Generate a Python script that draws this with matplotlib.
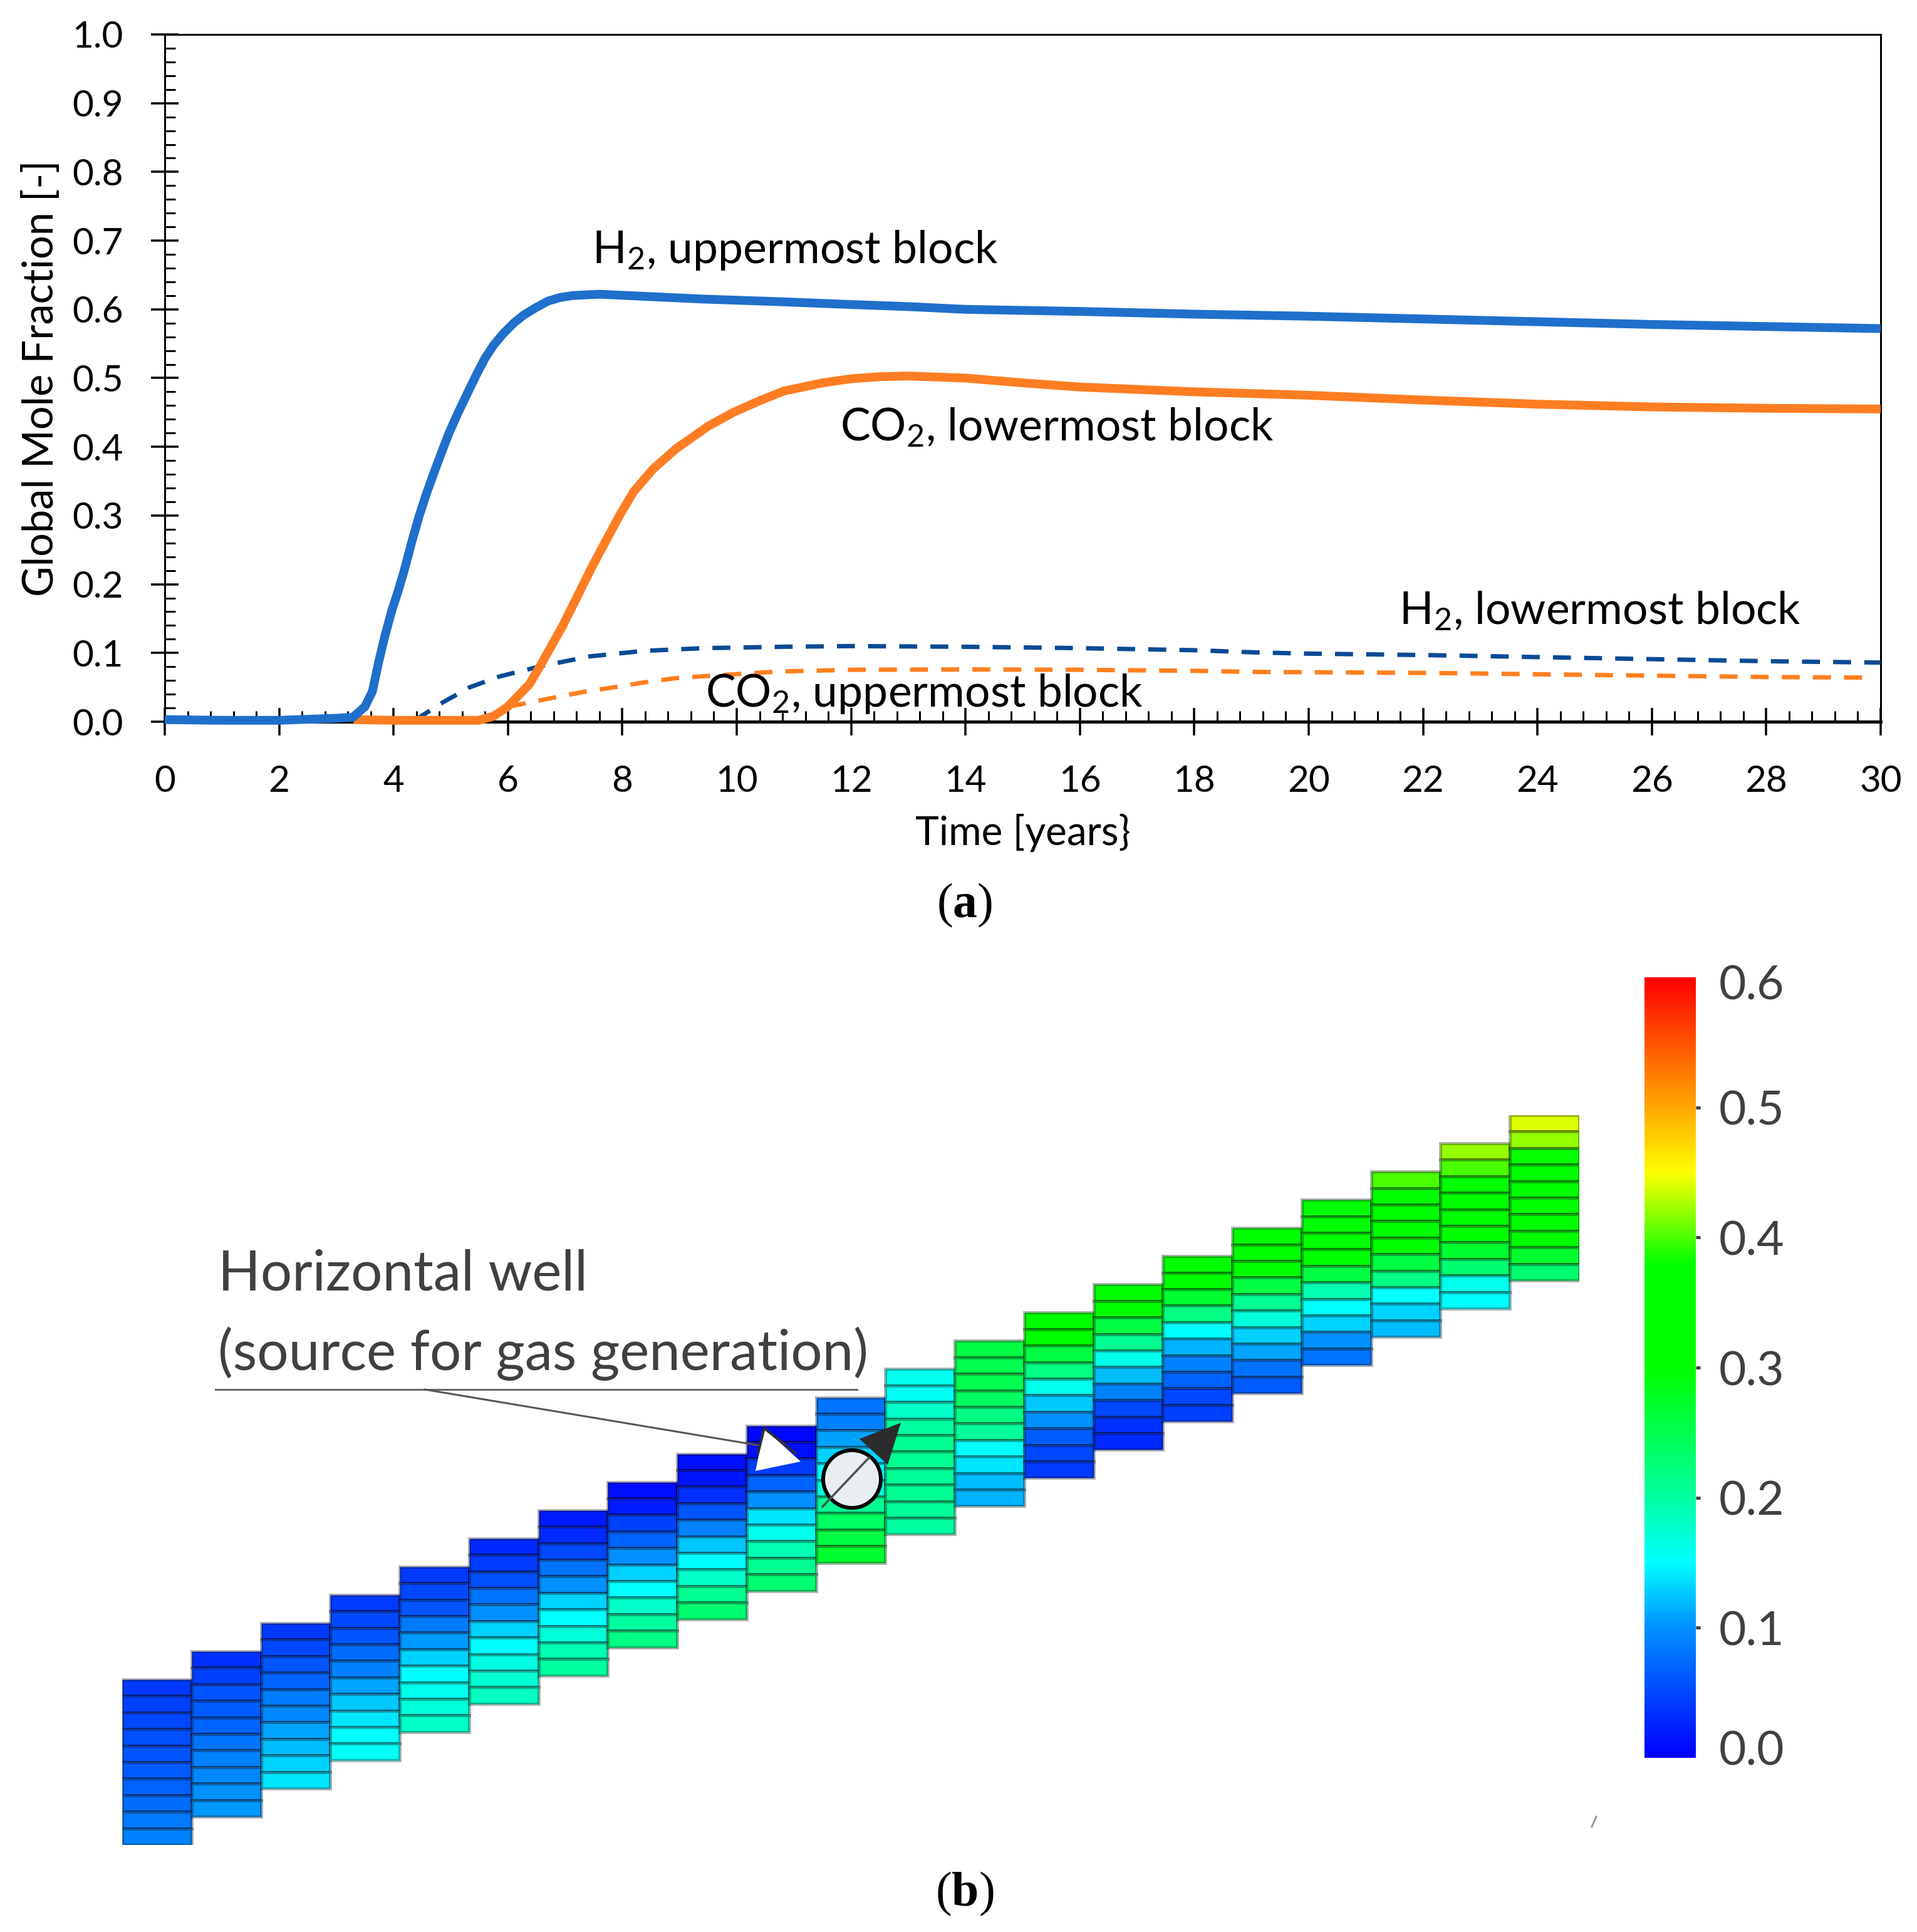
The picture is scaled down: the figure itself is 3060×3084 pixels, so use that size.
import numpy as np
import matplotlib
matplotlib.use("Agg")
import matplotlib.pyplot as plt
from matplotlib.cm import ScalarMappable
from matplotlib.colors import LinearSegmentedColormap, Normalize
from matplotlib.patches import Circle, Polygon
from matplotlib.ticker import MultipleLocator
from matplotlib.transforms import ScaledTranslation

# panel (a) curves
h2_upper_t = [0, 1, 2, 3, 3.29, 3.5, 3.63, 3.74, 3.85, 3.97, 4.08, 4.18, 4.33, 4.45, 4.58, 4.71, 4.84, 4.97, 5.12,
              5.28, 5.45, 5.6, 5.75, 5.91, 6.1, 6.28, 6.5, 6.7, 6.9, 7.12, 7.35, 7.6, 8.37, 9.4, 10.8, 12, 13, 14,
              16, 18, 20, 22, 24, 26, 28, 30]
h2_upper = [.003, .002, .002, .005, .0065, .022, .044, .087, .125, .162, .19, .218, .265, .30, .333, .363, .392, .42,
            .448, .476, .505, .529, .548, .564, .58, .592, .603, .612, .617, .62, .621, .622, .619, .615, .611, .607,
            .604, .6, .597, .593, .59, .586, .582, .578, .575, .572]
co2_lower_t = [3.3, 4, 5, 5.49, 5.75, 6.0, 6.38, 6.59, 6.96, 7.48, 7.95, 8.2, 8.53, 8.95, 9.16, 9.5, 9.94, 10.4,
               10.82, 11.5, 12, 12.5, 13, 14, 15, 16, 18, 20, 22, 24, 26, 28, 30]
co2_lower = [.003, .002, .002, .002, .008, .022, .055, .085, .14, .227, .30, .335, .367, .398, .41, .43, .45, .467,
             .481, .493, .499, .502, .503, .5, .493, .487, .48, .475, .468, .462, .458, .456, .455]
h2_lower_t = [4.37, 4.86, 5.33, 5.86, 6.59, 7.43, 8.37, 9.42, 10.82, 12, 14, 16, 18, 19.07, 20, 22, 24, 26, 28, 30]
h2_lower = [.002, .028, .05, .066, .081, .095, .103, .107, .109, .11, .109, .107, .104, .1008, .099, .097, .094,
            .091, .088, .086]
co2_upper_t = [6.0, 6.2, 6.8, 7.3, 7.85, 8.37, 8.9, 9.4, 10.73, 12, 14, 16, 18, 19.07, 22, 24, 26, 28, 29.7]
co2_upper = [.022, .025, .035, .043, .05, .057, .063, .066, .073, .0755, .076, .0755, .074, .0724, .071, .069, .067,
             .065, .0642]

# panel (b) mole fraction per block, one row per column of the grid, top layer first
block_values = [
    [.04, .045, .05, .055, .06, .065, .07, .075, .085, .09],
    [.035, .045, .06, .065, .07, .08, .09, .095, .10, .105],
    [.04, .05, .06, .07, .085, .095, .11, .12, .13, .14],
    [.04, .05, .06, .075, .09, .11, .125, .14, .15, .155],
    [.04, .05, .06, .085, .105, .13, .15, .16, .17, .18],
    [.03, .04, .055, .08, .10, .13, .15, .165, .175, .185],
    [.02, .03, .05, .08, .10, .13, .15, .17, .19, .20],
    [.01, .02, .045, .07, .10, .13, .15, .18, .20, .22],
    [.01, .015, .035, .06, .09, .125, .15, .18, .21, .23],
    [.005, .01, .04, .07, .10, .14, .16, .19, .21, .23],
    [.08, .09, .11, .13, .15, .17, .21, .24, .26, .27],
    [.16, .155, .18, .20, .21, .21, .205, .21, .205, .20],
    [.26, .25, .25, .24, .22, .205, .15, .14, .12, .115],
    [.32, .30, .26, .22, .16, .125, .10, .065, .05, .04],
    [.34, .33, .26, .21, .16, .12, .09, .05, .035, .03],
    [.34, .33, .27, .22, .15, .115, .09, .07, .05, .045],
    [.35, .34, .30, .26, .21, .17, .13, .11, .08, .065],
    [.36, .35, .345, .31, .26, .19, .15, .13, .10, .08],
    [.40, .36, .35, .34, .30, .26, .22, .15, .13, .12],
    [.42, .40, .35, .35, .34, .31, .27, .23, .16, .15],
    [.44, .42, .38, .355, .35, .35, .34, .30, .27, .23],
]
colorbar_ticks = [0.0, 0.1, 0.2, 0.3, 0.4, 0.5, 0.6]

W, H = 3060, 3084
DPI = 100
PT = 72 / DPI  # one picture pixel in points

plt.rcParams['font.family'] = ['Lato', 'DejaVu Sans']
plt.rcParams['mathtext.default'] = 'regular'
plt.rcParams['mathtext.fontset'] = 'custom'
plt.rcParams['mathtext.rm'] = 'Liberation Serif'
plt.rcParams['mathtext.bf'] = 'Liberation Serif:bold'


def px_axes(fig, left, top, right, bottom, **kw):
    return fig.add_axes([left / W, 1 - bottom / H, (right - left) / W, (bottom - top) / H], **kw)


fig = plt.figure(figsize=(W / DPI, H / DPI), dpi=DPI, facecolor='white')

# panel (a)
ax = px_axes(fig, 263, 55, 3002, 1152)
ax.plot(h2_lower_t, h2_lower, color='#0B4A94', lw=7 * PT, dashes=(4.1, 3.0), dash_capstyle='butt', zorder=3)
ax.plot(co2_upper_t, co2_upper, color='#FF7F1E', lw=7 * PT, dashes=(4.1, 3.0), dash_capstyle='butt', zorder=3)
ax.plot(co2_lower_t, co2_lower, color='#FF7D23', lw=14 * PT, solid_capstyle='butt', solid_joinstyle='round',
        clip_on=False, zorder=4)
ax.plot(h2_upper_t, h2_upper, color='#1F6FCB', lw=14 * PT, solid_capstyle='butt', solid_joinstyle='round',
        clip_on=False, zorder=5)
ax.set_xlim(0, 30)
ax.set_ylim(0, 1)
ax.xaxis.set_major_locator(MultipleLocator(2))
ax.xaxis.set_minor_locator(MultipleLocator(0.4))
ax.yaxis.set_major_locator(MultipleLocator(0.1))
ax.yaxis.set_minor_locator(MultipleLocator(0.02))
ax.tick_params(which='major', direction='inout', length=44 * PT, width=3.5 * PT, labelsize=42)
ax.tick_params(axis='x', which='major', pad=47 * PT)
ax.tick_params(axis='y', which='major', pad=44 * PT)
ax.tick_params(which='minor', direction='in', length=17 * PT, width=3 * PT)
for side in ax.spines:
    ax.spines[side].set_linewidth(3 * PT)
ax.spines['bottom'].set_linewidth(5 * PT)
ax.set_xlabel('Time [years}', fontsize=46, labelpad=18)
ax.set_ylabel('Global Mole Fraction [-]', fontsize=48, labelpad=13)

# panel (b) grid, x in columns, y in layers
layer_px = 26.4
column_rise = 45.05 / layer_px
cmap = LinearSegmentedColormap.from_list('gas', [
    (0.0, (0, 0, 1)),
    (0.1 / 0.6, (0, 0.57, 1)),
    (0.15 / 0.6, (0, 1, 1)),
    (0.2 / 0.6, (0, 1, 0.63)),
    (0.3 / 0.6, (0, 1, 0)),
    (0.38 / 0.6, (0, 1, 0)),
    (0.45 / 0.6, (1, 1, 0)),
    (0.5 / 0.6, (1, 0.66, 0)),
    (1.0, (1, 0, 0)),
])
norm = Normalize(0, 0.6)

ax_grid = px_axes(fig, 195, 1780, 2521, 2945)
ax_grid.patch.set_alpha(0)
ax_grid.set_axis_off()
n_cols = len(block_values)
for col, values in enumerate(block_values):
    n_layers = len(values)
    bottoms = [col * column_rise + (n_layers - 1 - j) for j in range(n_layers)]
    ax_grid.bar([col] * n_layers, [1] * n_layers, width=1, bottom=bottoms, color=cmap(norm(values)),
                edgecolor=(0, 0, 0, 0.3), linewidth=5 * PT)
ax_grid.set_xlim(-0.5, n_cols - 0.5)
ax_grid.set_ylim(0, (n_cols - 1) * column_rise + 10)

# colour scale
cax = px_axes(fig, 2625, 1560, 2707, 2806)
cbar = fig.colorbar(ScalarMappable(norm=norm, cmap=cmap), cax=cax, ticks=colorbar_ticks)
cbar.outline.set_visible(False)
cbar.ax.tick_params(length=7 * PT, width=5 * PT, color='#404040', labelcolor='#404040', labelsize=54, pad=30 * PT)
cbar.ax.set_yticklabels(['%.1f' % v for v in colorbar_ticks])
ticks = cbar.ax.yaxis.get_major_ticks()
ticks[0].tick2line.set_visible(False)
ticks[-1].tick2line.set_visible(False)
zero_label = ticks[0].label2
zero_label.set_transform(zero_label.get_transform() + ScaledTranslation(0, 16 / DPI, fig.dpi_scale_trans))
ticks[-1].label2.set_transform(ticks[-1].label2.get_transform() + ScaledTranslation(0, -8 / DPI, fig.dpi_scale_trans))

# annotations in picture pixels
ov = px_axes(fig, 0, 0, W, H)
ov.patch.set_alpha(0)
ov.set_axis_off()
ov.set_xlim(0, W)
ov.set_ylim(H, 0)
ov.set_aspect('equal')

for x, y, s in [(945, 420, 'H$_2$, uppermost block'),
                (1341, 703, 'CO$_2$, lowermost block'),
                (2233, 996, 'H$_2$, lowermost block'),
                (1126, 1128, 'CO$_2$, uppermost block')]:
    ov.text(x, y, s, fontsize=51.5, va='baseline', ha='left', color='black', zorder=6)

ov.text(348, 2060, 'Horizontal well', fontsize=64, va='baseline', ha='left', color='#404040')
ov.text(348, 2187, '(source for gas generation)', fontsize=64, va='baseline', ha='left', color='#404040')
ov.plot([344, 1368], [2218, 2218], color='#666666', lw=3 * PT)
ov.plot([678, 1210], [2218, 2307], color='#555555', lw=3 * PT)

ov.add_patch(Polygon([(1220, 2280), (1278, 2333), (1206, 2348)], closed=True, facecolor='white', edgecolor='none'))
ov.plot([1270, 1220, 1210], [2320, 2280, 2320], color='#303030', lw=4 * PT)
ov.add_patch(Polygon([(1438, 2271), (1372, 2297), (1417, 2338)], closed=True, facecolor='#2B2B2B', edgecolor='none'))
ov.add_patch(Circle((1360, 2361), 46, facecolor='#E8EEF2', edgecolor='black', lw=6 * PT, zorder=4))
ov.plot([1313, 1387], [2405, 2327], color='#505050', lw=3.5 * PT, zorder=5)
ov.plot([2548, 2541], [2900, 2916], color='#999999', lw=3 * PT)

ov.text(1540, 1464, r'($\mathbf{a}$)', family='Liberation Serif', fontsize=56, va='baseline', ha='center')
ov.text(1540, 3042, r'($\mathbf{b}$)', family='Liberation Serif', fontsize=56, va='baseline', ha='center')

fig.savefig('out.png', dpi=DPI)
